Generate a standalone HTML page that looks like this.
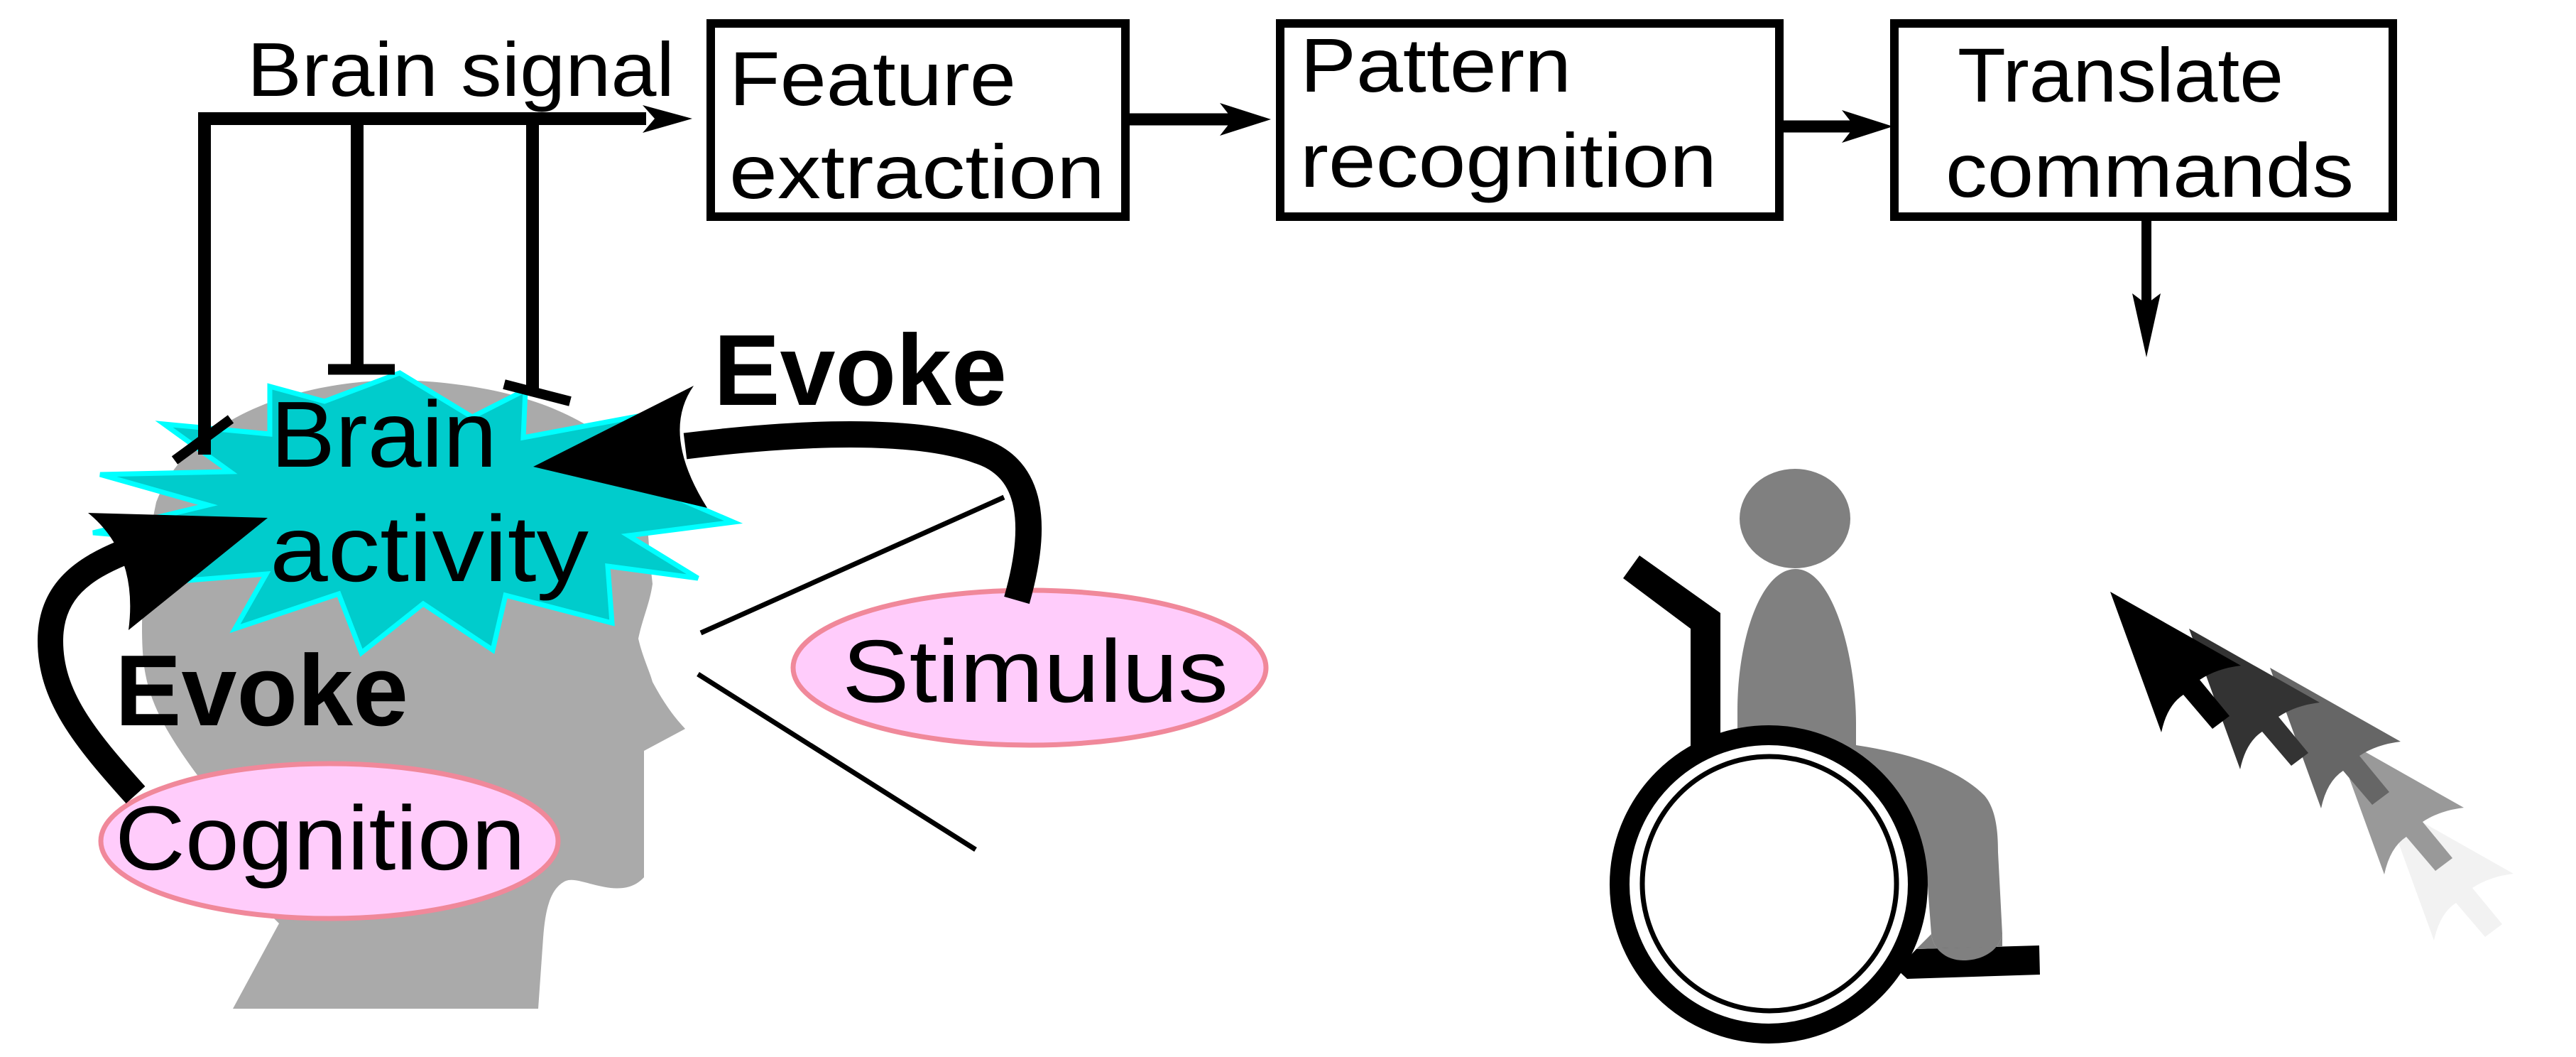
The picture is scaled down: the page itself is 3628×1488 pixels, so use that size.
<!DOCTYPE html>
<html><head><meta charset="utf-8"><style>
html,body{margin:0;padding:0;background:#fff;}
svg{display:block;}
text{font-family:"Liberation Sans",sans-serif;}
</style></head><body>
<svg width="3628" height="1488" viewBox="0 0 3628 1488" xmlns="http://www.w3.org/2000/svg">
<rect width="3628" height="1488" fill="#fff"/>

<!-- Head -->
<path d="M328,1420 L393,1300 C340,1250 300,1160 280,1094 C240,1040 214,997 205,950 C195,900 200,800 220,707 C260,600 400,535 567,535 C700,540 800,570 870,630 C905,680 914,740 914,776 L919,822 C915,850 905,870 899,899 C905,925 915,945 919,960 C935,990 950,1010 965,1026 L907,1057 L907,1235 C895,1248 880,1252 860,1250 C830,1246 810,1235 797,1240 C775,1250 768,1280 765,1320 L758,1420 Z" fill="#aaaaaa"/>

<!-- Starburst -->
<polygon points="563,525 665,587 740,549 737,616 914,583 856,659 1033,735 885,754 983,814 856,797 862,877 712,838 694,915 596,850 509,919 477,836 331,885 375,808 266,817 298,764 131,750 293,711 141,668 324,664 231,597 380,611 380,544 457,565" fill="#00cccc" stroke="#00ffff" stroke-width="7" stroke-linejoin="miter"/>

<!-- Brain signal lines -->
<polyline points="288,640 288,167 910,167" fill="none" stroke="#000" stroke-width="18"/>
<polygon points="975,167 905,148 922,167 905,187" fill="#000"/>
<line x1="503" y1="167" x2="503" y2="520" stroke="#000" stroke-width="18"/>
<line x1="462" y1="520" x2="556" y2="520" stroke="#000" stroke-width="15"/>
<line x1="750" y1="167" x2="750" y2="550" stroke="#000" stroke-width="18"/>
<line x1="710" y1="541" x2="803" y2="565" stroke="#000" stroke-width="14"/>
<line x1="246" y1="648" x2="325" y2="590" stroke="#000" stroke-width="14"/>

<text x="348" y="135" font-size="108" textLength="602" lengthAdjust="spacingAndGlyphs">Brain signal</text>

<!-- Boxes -->
<rect x="1001" y="33" width="584" height="272" fill="none" stroke="#000" stroke-width="12"/>
<text x="1027" y="148" font-size="108" textLength="404" lengthAdjust="spacingAndGlyphs">Feature</text>
<text x="1027" y="279" font-size="108" textLength="529" lengthAdjust="spacingAndGlyphs">extraction</text>

<line x1="1591" y1="168" x2="1740" y2="168" stroke="#000" stroke-width="17"/>
<polygon points="1790,168 1718,145 1736,168 1718,191" fill="#000"/>

<rect x="1803" y="33" width="703" height="272" fill="none" stroke="#000" stroke-width="12"/>
<text x="1831" y="129" font-size="108" textLength="382" lengthAdjust="spacingAndGlyphs">Pattern</text>
<text x="1831" y="263" font-size="108" textLength="587" lengthAdjust="spacingAndGlyphs">recognition</text>

<line x1="2512" y1="178" x2="2620" y2="178" stroke="#000" stroke-width="17"/>
<polygon points="2666,178 2594,155 2612,178 2594,201" fill="#000"/>

<rect x="2668" y="33" width="702" height="272" fill="none" stroke="#000" stroke-width="12"/>
<text x="2757" y="143" font-size="108" textLength="459" lengthAdjust="spacingAndGlyphs">Translate</text>
<text x="2740" y="277" font-size="108" textLength="575" lengthAdjust="spacingAndGlyphs">commands</text>

<line x1="3023" y1="305" x2="3023" y2="450" stroke="#000" stroke-width="14"/>
<polygon points="3023,503 3003,413 3023,428 3043,413" fill="#000"/>

<!-- Stimulus lines -->
<line x1="987" y1="891" x2="1414" y2="700" stroke="#000" stroke-width="7"/>
<line x1="983" y1="949" x2="1374" y2="1196" stroke="#000" stroke-width="7"/>

<!-- Ellipses -->
<ellipse cx="464" cy="1184" rx="322" ry="109" fill="#ffccfb" stroke="#f0889a" stroke-width="7"/>
<text x="162" y="1224" font-size="128" textLength="578" lengthAdjust="spacingAndGlyphs">Cognition</text>
<ellipse cx="1450" cy="940" rx="333" ry="109" fill="#ffccfb" stroke="#f0889a" stroke-width="7"/>
<text x="1186" y="988" font-size="125" textLength="544" lengthAdjust="spacingAndGlyphs">Stimulus</text>

<!-- Stimulus arrow -->
<path d="M1432,845 C1462,740 1455,660 1380,635 C1300,605 1150,605 965,628" fill="none" stroke="#000" stroke-width="37"/>
<path d="M751,657 L977,543 Q930,610 996,715 Z" fill="#000"/>

<!-- Cognition arrow -->
<path d="M191,1119 C120,1040 70,980 71,900 C72,830 120,800 173,778" fill="none" stroke="#000" stroke-width="36"/>
<path d="M377,729 L124,722 Q195,780 181,887 Z" fill="#000"/>

<!-- Brain activity text -->
<text x="381" y="657" font-size="132" textLength="319" lengthAdjust="spacingAndGlyphs">Brain</text>
<text x="380" y="818" font-size="132" textLength="449" lengthAdjust="spacingAndGlyphs">activity</text>

<!-- Evoke -->
<text x="1005" y="570" font-size="142" font-weight="bold" textLength="413" lengthAdjust="spacingAndGlyphs">Evoke</text>
<text x="162" y="1021" font-size="142" font-weight="bold" textLength="413" lengthAdjust="spacingAndGlyphs">Evoke</text>

<!-- Wheelchair person -->
<ellipse cx="2528" cy="730" rx="78" ry="70" fill="#808080"/>
<path d="M2447,1060 L2447,1000 C2447,900 2480,801 2529,801 C2580,801 2614,920 2614,1020 L2614,1060 Z" fill="#808080"/>
<path d="M2447,1030 L2614,1049 C2700,1062 2760,1085 2795,1120 C2812,1140 2814,1174 2814,1200 L2820,1315 C2815,1340 2790,1352 2765,1352 C2740,1352 2722,1335 2720,1315 L2713,1221 C2700,1160 2650,1120 2447,1110 Z" fill="#808080"/>
<polygon points="2309,782 2423,863 2423,1040 2381,1060 2381,885 2286,814" fill="#000"/>
<polygon points="2699,1336 2872,1331 2873,1372 2686,1378 2672,1365" fill="#000"/>
<path d="M2720,1315 C2722,1335 2740,1352 2765,1352 C2790,1352 2815,1340 2820,1315 L2820,1332 L2699,1336 Z" fill="#808080"/>
<circle cx="2491" cy="1245" r="210" fill="#fff" stroke="#000" stroke-width="28"/>
<ellipse cx="2492" cy="1244" rx="179" ry="179" fill="none" stroke="#000" stroke-width="7"/>

<!-- Cursors -->
<defs>
<path id="cur" d="M0,0 L72,198 Q80,160 103,145 L144,193 L168,175 L126,124 Q150,108 184,104 Z"/>
</defs>
<use href="#cur" x="3356" y="1126" fill="#f2f2f2"/>
<use href="#cur" x="3286" y="1033" fill="#999999"/>
<use href="#cur" x="3197" y="940" fill="#666666"/>
<use href="#cur" x="3083" y="885" fill="#333333"/>
<use href="#cur" x="2972" y="833" fill="#000000"/>
</svg>
</body></html>
